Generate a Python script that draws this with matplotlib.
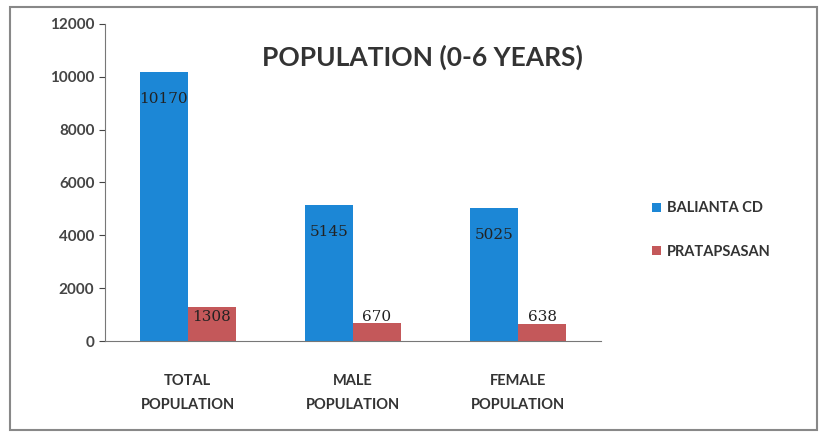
import matplotlib
matplotlib.use("Agg")
import matplotlib.pyplot as plt
import numpy as np
from matplotlib.patches import Rectangle

categories = ["TOTAL\nPOPULATION", "MALE\nPOPULATION", "FEMALE\nPOPULATION"]
baliyanta = [10170, 5145, 5025]
pratapsasan = [1308, 670, 638]
series_names = ["BALIANTA CD", "PRATAPSASAN"]
title = "POPULATION (0-6 YEARS)"

plt.rcParams['font.family'] = ['Lato', 'DejaVu Sans']

blue = "#1c87d6"
red = "#c4585a"

fig = plt.figure(figsize=(8.19, 4.34), dpi=100)
ax = fig.add_axes([0.128, 0.214, 0.606, 0.731])

x = np.arange(len(categories))
w = 0.29
b1 = ax.bar(x - w / 2, baliyanta, w, color=blue, label=series_names[0])
b2 = ax.bar(x + w / 2, pratapsasan, w, color=red, label=series_names[1])

for xi, v in zip(x, baliyanta):
    ax.text(xi - w / 2, v - 1000, str(v), ha="center", va="center",
            fontsize=11, color="#222222", family="DejaVu Serif")
for xi, v in zip(x, pratapsasan):
    ax.text(xi + w / 2, 900, str(v), ha="center", va="center",
            fontsize=11, color="#222222", family="DejaVu Serif")

ax.set_xlim(-0.5, 2.5)
ax.set_ylim(0, 12000)
ax.set_yticks(range(0, 12001, 2000))
ax.set_xticks(x)
ax.set_xticklabels(categories, fontsize=10.5, fontweight="bold", color="#333333",
                   linespacing=1.9)
ax.tick_params(axis="y", labelsize=11, colors="#444444", length=4, direction="out")
for lab in ax.get_yticklabels():
    lab.set_fontweight("bold")
ax.tick_params(axis="x", length=0, pad=24)
for s in ["top", "right"]:
    ax.spines[s].set_visible(False)
ax.spines["left"].set_color("#777777")
ax.spines["bottom"].set_color("#777777")

ax.text(0.64, 0.895, title, transform=ax.transAxes, ha="center", va="center",
        fontsize=19, fontweight="bold", color="#333333")

fig.legend(handles=[b1, b2], loc="center left", bbox_to_anchor=(0.78, 0.47),
           frameon=False, fontsize=10.5, handlelength=0.6, handleheight=0.6,
           labelspacing=2.0, handletextpad=0.4)
for t in fig.legends[0].get_texts():
    t.set_color("#333333")
    t.set_fontweight("bold")

fig.patches.append(Rectangle((0.012, 0.01), 0.985, 0.975, transform=fig.transFigure,
                             fill=False, edgecolor="#888888", linewidth=1.5))

fig.savefig("out.png", dpi=100, facecolor="white")
